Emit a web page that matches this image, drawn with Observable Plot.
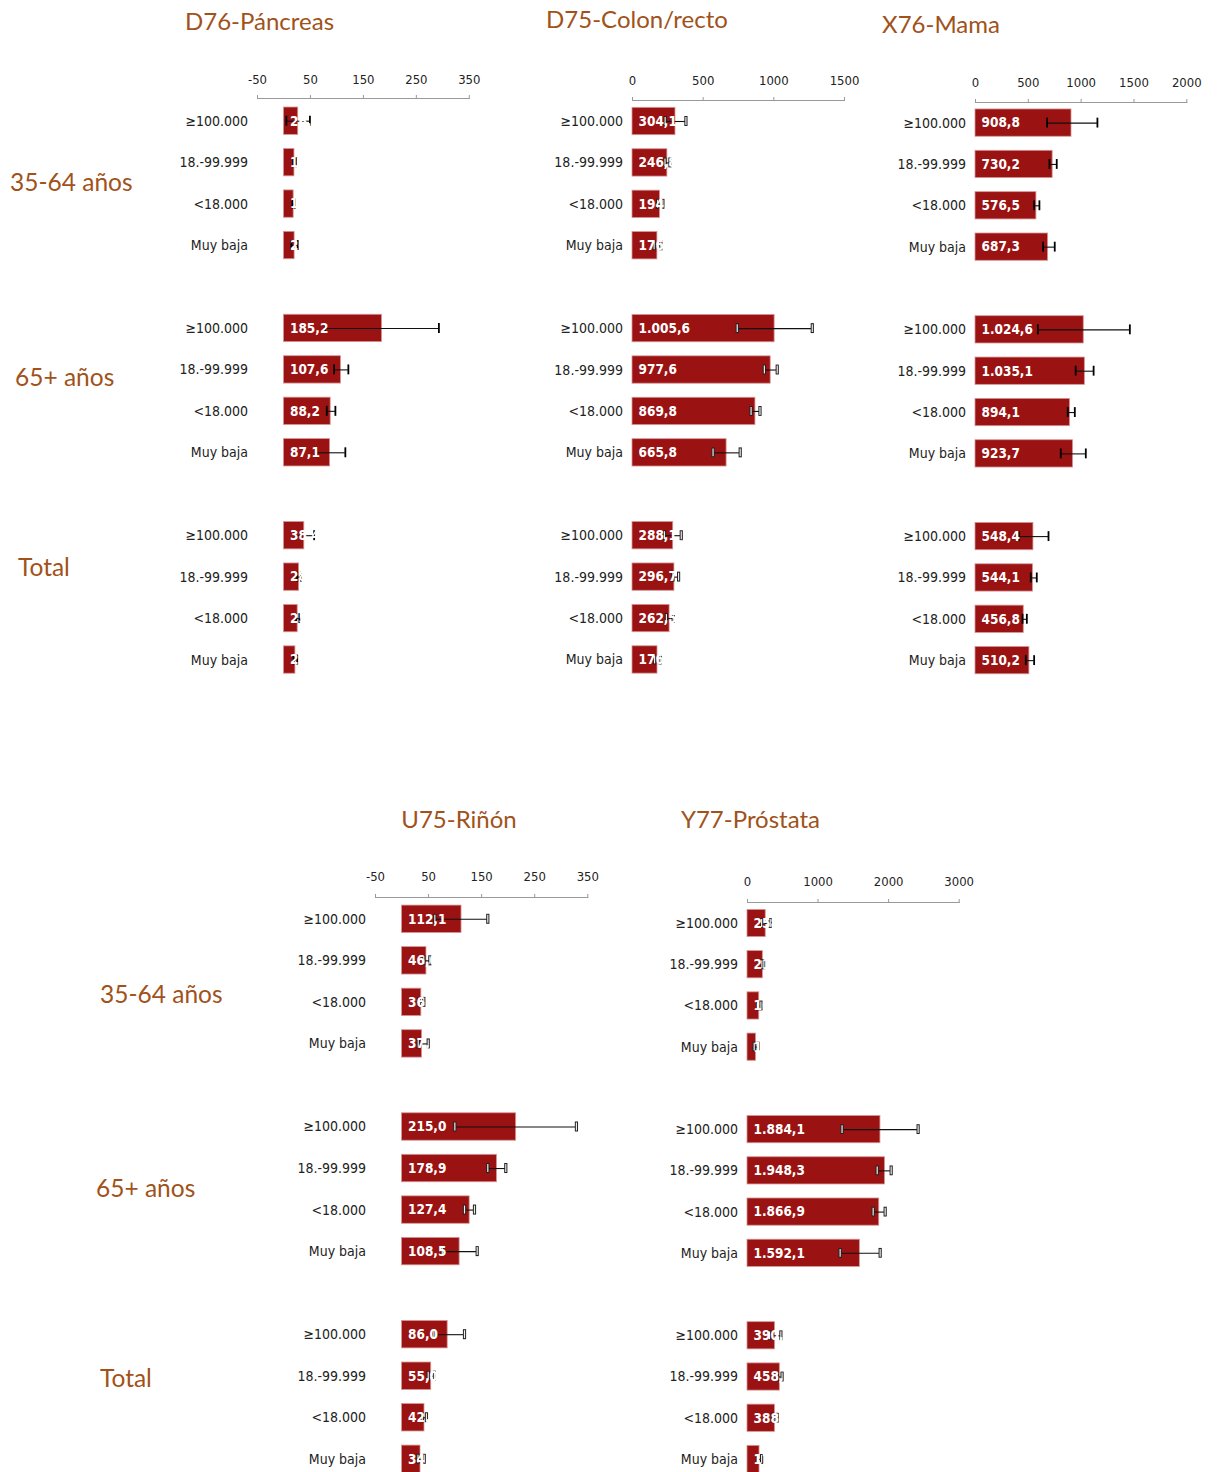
<!DOCTYPE html>
<html><head><meta charset="utf-8">
<script src="https://cdn.jsdelivr.net/npm/d3@7"></script>
<script src="https://cdn.jsdelivr.net/npm/@observablehq/plot@0.6"></script>
<style>
html,body{margin:0;padding:0;background:#fff;overflow:hidden}
#page{position:relative;width:1217px;height:1472px;overflow:hidden;background:#fff}
.title,.group{position:absolute;font-family:Lato,"Open Sans",sans-serif;color:#a0521a;white-space:nowrap;font-size:24px}
.group{font-size:24.5px}
.title{transform:translate(-50%,-50%)}
.group{transform:translate(0,-50%)}
.panel{position:absolute}
.panel svg{background:transparent!important;overflow:visible}
</style></head><body><div id="page"></div>
<script>
// ---- data ----
const categories = ["≥100.000", "18.-99.999", "<18.000", "Muy baja"];
const groups = ["35-64 años", "65+ años", "Total"];
const panelTitles = ["D76-Páncreas", "D75-Colon/recto", "X76-Mama", "U75-Riñón", "Y77-Próstata"];

const pancreasValue = [26.9, 19.8, 18.3, 20.1, 185.2, 107.6, 88.2, 87.1, 38.4, 28.6, 25.9, 21.6];
const pancreasLow   = [4.5, 17.5, 16.0, 14.0, 77.7, 94.6, 80.8, 61.4, 22.0, 25.0, 23.0, 18.0];
const pancreasHigh  = [49.0, 22.5, 20.5, 26.0, 292.6, 121.6, 97.1, 115.9, 57.0, 32.0, 29.0, 25.0];
const pancreasTicks = [-50, 50, 150, 250, 350];

const colonValue = [304.1, 246.8, 194.3, 176.2, 1005.6, 977.6, 869.8, 665.8, 288.1, 296.7, 262.5, 176.9];
const colonLow   = [231, 230, 178, 153, 741, 933, 839, 570, 226, 286, 240, 156];
const colonHigh  = [378, 265, 215, 201, 1272, 1024, 902, 762, 345, 326, 288, 196];
const colonTicks = [0, 500, 1000, 1500];

const mamaValue = [908.8, 730.2, 576.5, 687.3, 1024.6, 1035.1, 894.1, 923.7, 548.4, 544.1, 456.8, 510.2];
const mamaLow   = [678, 700, 555, 640, 590, 948, 873, 807, 413, 523, 445, 476];
const mamaHigh  = [1154, 769, 605, 750, 1461, 1118, 940, 1044, 691, 580, 486, 555];
const mamaTicks = [0, 500, 1000, 1500, 2000];

const rinonValue = [112.1, 46.0, 36.4, 37.8, 215.0, 178.9, 127.4, 108.5, 86.0, 55.0, 42.3, 34.8];
const rinonLow   = [61.8, 41.0, 32.0, 30.5, 99.5, 161.6, 117.7, 75.7, 60.0, 49.3, 38.0, 30.0];
const rinonHigh  = [161.6, 52.4, 41.0, 49.3, 328.6, 195.5, 136.5, 141.6, 117.7, 61.0, 46.0, 41.8];
const rinonTicks = [-50, 50, 150, 250, 350];

const prostataValue = [258.3, 217.5, 166.2, 121.6, 1884.1, 1948.3, 1866.9, 1592.1, 390.6, 458.2, 388.7, 170.4];
const prostataLow   = [200, 204, 145, 95, 1340, 1838, 1781, 1313, 312, 420, 360, 140];
const prostataHigh  = [322, 232, 190, 150, 2418, 2036, 1951, 1880, 473, 490, 420, 200];
const prostataTicks = [0, 1000, 2000, 3000];

// ---- layout (page pixels) ----
const layouts = [
  {x0: 256.5, x1: 468.3, axisY: 98.3, labelOff: 18.3, c0: 121.0, step: 41.45, tx: 259.5, ty: 20, hollow: false},
  {x0: 632.3, x1: 844.3, axisY: 100.0, labelOff: 20, c0: 121.0, step: 41.42, tx: 637, ty: 18, hollow: true},
  {x0: 974.7, x1: 1186.0, axisY: 101.7, labelOff: 19, c0: 122.3, step: 41.35, tx: 941, ty: 23, hollow: false},
  {x0: 375.0, x1: 587.3, axisY: 896.7, labelOff: 20, c0: 918.5, step: 41.54, tx: 459, ty: 818, hollow: true},
  {x0: 747.3, x1: 959.0, axisY: 901.7, labelOff: 20, c0: 922.7, step: 41.23, tx: 750.5, ty: 818, hollow: true}
];
const groupLabelPos = [
  [[10, 181], [15, 376], [18, 566]],
  [[100, 993], [96, 1187], [100, 1377]]
];

const panels = [
  {values: pancreasValue, low: pancreasLow, high: pancreasHigh, ticks: pancreasTicks},
  {values: colonValue, low: colonLow, high: colonHigh, ticks: colonTicks},
  {values: mamaValue, low: mamaLow, high: mamaHigh, ticks: mamaTicks},
  {values: rinonValue, low: rinonLow, high: rinonHigh, ticks: rinonTicks},
  {values: prostataValue, low: prostataLow, high: prostataHigh, ticks: prostataTicks}
];

const fmt = d3.formatLocale({decimal: ",", thousands: ".", grouping: [3], currency: ["", "€"]}).format(",.1f");
const page = document.getElementById("page");
const FONT = '"DejaVu Sans Condensed", "DejaVu Sans", sans-serif';
const BAR = "#9a1212";

function makePanel(p, L, idx) {
  const rows = p.values.map((v, i) => ({
    key: Math.floor(i / 4) + "|" + categories[i % 4],
    value: v, lo: p.low[i], hi: p.high[i]
  }));
  const domain = [];
  groups.forEach((g, gi) => {
    if (gi > 0) domain.push("gap" + gi);
    categories.forEach(c => domain.push(gi + "|" + c));
  });
  const mL = 92, mT = 50, mR = 30;
  const svgLeft = L.x0 - mL, svgTop = L.axisY - mT;
  const width = L.x1 - svgLeft + mR;
  const r0 = L.c0 - 0.67 * L.step - svgTop;
  const r1 = r0 + 14.34 * L.step;
  const height = Math.ceil(r1 + 15);
  const capOpts = {y: "key", insetTop: 8.7, insetBottom: 8.7};
  const caps = L.hollow ? [
    Plot.tickX(rows, {...capOpts, x: "lo", stroke: "#222", strokeWidth: 3.2}),
    Plot.tickX(rows, {...capOpts, x: "hi", stroke: "#222", strokeWidth: 3.2}),
    Plot.tickX(rows, {y: "key", insetTop: 9.7, insetBottom: 9.7, x: "lo", stroke: "#eee", strokeWidth: 1.2}),
    Plot.tickX(rows, {y: "key", insetTop: 9.7, insetBottom: 9.7, x: "hi", stroke: "#eee", strokeWidth: 1.2})
  ] : [
    Plot.tickX(rows, {...capOpts, x: "lo", stroke: "#000", strokeWidth: 1.8}),
    Plot.tickX(rows, {...capOpts, x: "hi", stroke: "#000", strokeWidth: 1.8})
  ];
  const chart = Plot.plot({
    width, height, marginLeft: mL, marginRight: mR, marginTop: mT, marginBottom: 0,
    style: {background: "transparent", fontFamily: FONT, fontStretch: "condensed", fontSize: "13px", color: "#222"},
    x: {domain: [p.ticks[0], p.ticks[p.ticks.length - 1]]},
    y: {domain, range: [r0, r1], padding: 0.34, round: false},
    marks: [
      Plot.frame({anchor: "top", stroke: "#999"}),
      Plot.axisX({anchor: "top", ticks: p.ticks, tickSize: 4, tickPadding: L.labelOff - 8, stroke: "#999", fill: "#222", label: null, fontSize: 13,
        tickFormat: d => String(d)}),
      Plot.axisY({tickSize: 0, tickPadding: 9.5, label: null, fill: "#222", fontSize: 14,
        tickFormat: d => d.startsWith("gap") ? "" : d.split("|")[1]}),
      Plot.barX(rows, {x: "value", y: "key", fill: BAR, stroke: "#d79595", strokeWidth: 0.8}),
      Plot.ruleY(rows, {x1: "lo", x2: "hi", y: "key", stroke: "#111", strokeWidth: 1.1}),
      ...caps,
      Plot.text(rows, {x: 0, y: "key", text: d => fmt(d.value), fill: "white", textAnchor: "start", dx: 6, fontWeight: "bold", fontSize: 13.5})
    ]
  });
  const div = document.createElement("div");
  div.className = "panel";
  div.style.left = svgLeft + "px";
  div.style.top = svgTop + "px";
  div.appendChild(chart);
  page.appendChild(div);

  const t = document.createElement("div");
  t.className = "title";
  t.textContent = panelTitles[idx];
  t.style.left = L.tx + "px";
  t.style.top = L.ty + "px";
  page.appendChild(t);
}

panels.forEach((p, i) => makePanel(p, layouts[i], i));

groupLabelPos.forEach(row => row.forEach((pos, gi) => {
  const g = document.createElement("div");
  g.className = "group";
  g.textContent = groups[gi];
  g.style.left = pos[0] + "px";
  g.style.top = pos[1] + "px";
  page.appendChild(g);
}));
</script>
</body></html>
